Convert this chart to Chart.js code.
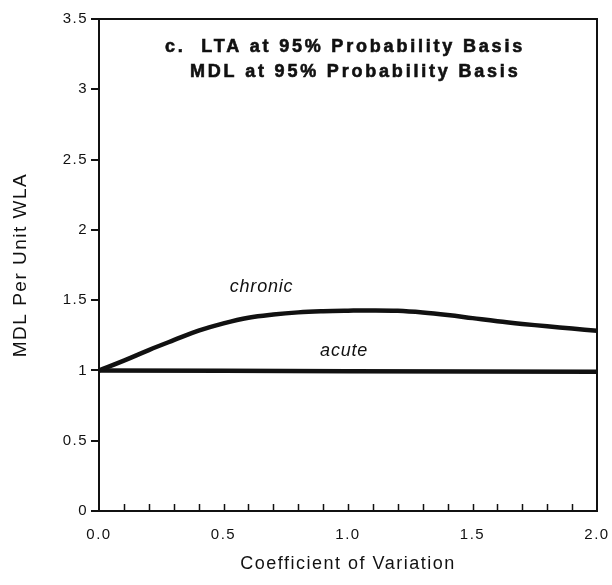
<!DOCTYPE html>
<html>
<head>
<meta charset="utf-8">
<title>MDL Per Unit WLA</title>
<script src="https://cdn.jsdelivr.net/npm/chart.js@4.4.1/dist/chart.umd.min.js"></script>
<style>
  html, body { margin: 0; padding: 0; background: #fff; }
  #wrap { width: 612px; height: 585px; }
</style>
</head>
<body>
<div id="wrap"><canvas id="mdlChart" width="612" height="585"></canvas></div>
<script>
// --- Data ---
const cvValues = [0.0, 0.1, 0.2, 0.3, 0.4, 0.5, 0.6, 0.7, 0.8, 0.9, 1.0,
                  1.1, 1.2, 1.3, 1.4, 1.5, 1.6, 1.7, 1.8, 1.9, 2.0];
const chronicMdl = [1.00, 1.07, 1.145, 1.215, 1.283, 1.335, 1.375, 1.398, 1.413, 1.421, 1.425,
                    1.427, 1.424, 1.412, 1.394, 1.372, 1.35, 1.331, 1.314, 1.298, 1.282];
const acuteCv = [0.0, 0.5, 1.0, 1.5, 2.0];
const acuteMdl = [1.0, 0.998, 0.995, 0.993, 0.99];

const xMinorTicks = [0.1, 0.2, 0.3, 0.4, 0.5, 0.6, 0.7, 0.8, 0.9, 1.0,
                     1.1, 1.2, 1.3, 1.4, 1.5, 1.6, 1.7, 1.8, 1.9];
const titleLines = ['c.  LTA at 95% Probability Basis', 'MDL at 95% Probability Basis'];
const curveLabels = [
  { text: 'chronic', x: 0.525, y: 1.56 },
  { text: 'acute', x: 0.888, y: 1.104 }
];

const INK = '#111';
const FONT = "'Liberation Sans', Arial, Helvetica, sans-serif";

function toPoints(xs, ys) {
  return xs.map((x, i) => ({ x: x, y: ys[i] }));
}

// --- Frame, inward minor ticks and text ---
const decorPlugin = {
  id: 'decor',
  beforeLayout(chart) { chart.ctx.letterSpacing = '1.5px'; },
  beforeDraw(chart) { chart.ctx.letterSpacing = '1.5px'; },
  beforeDatasetsDraw(chart) {
    const { ctx, chartArea: a, scales: { x } } = chart;
    ctx.save();
    ctx.strokeStyle = INK;
    ctx.lineWidth = 2;
    ctx.strokeRect(a.left, a.top, a.right - a.left, a.bottom - a.top);
    ctx.lineWidth = 1.5;
    ctx.beginPath();
    xMinorTicks.forEach(v => {
      const px = Math.round(x.getPixelForValue(v)) + 0.5;
      ctx.moveTo(px, a.bottom);
      ctx.lineTo(px, a.bottom - 7);
    });
    ctx.stroke();
    ctx.restore();
  },
  afterDraw(chart) {
    const { ctx, scales: { x, y } } = chart;
    ctx.save();
    ctx.fillStyle = INK;
    ctx.strokeStyle = INK;
    ctx.textBaseline = 'alphabetic';
    ctx.textAlign = 'left';

    // heading (slight stroke to thicken the bold face)
    ctx.font = 'bold 18px ' + FONT;
    ctx.letterSpacing = '2.8px';
    ctx.lineWidth = 0.6;
    [[165, 52], [190, 77]].forEach((pos, i) => {
      ctx.fillText(titleLines[i], pos[0], pos[1]);
      ctx.strokeText(titleLines[i], pos[0], pos[1]);
    });

    // curve names
    ctx.font = 'italic 18px ' + FONT;
    ctx.letterSpacing = '0.8px';
    curveLabels.forEach(l => {
      ctx.fillText(l.text, x.getPixelForValue(l.x), y.getPixelForValue(l.y));
    });
    ctx.restore();
  }
};

const ctx = document.getElementById('mdlChart').getContext('2d');
new Chart(ctx, {
  type: 'line',
  data: {
    datasets: [
      {
        label: 'chronic',
        data: toPoints(cvValues, chronicMdl),
        borderColor: INK, borderWidth: 4.5,
        pointRadius: 0, tension: 0.4, fill: false
      },
      {
        label: 'acute',
        data: toPoints(acuteCv, acuteMdl),
        borderColor: INK, borderWidth: 4.5,
        pointRadius: 0, tension: 0, fill: false
      }
    ]
  },
  options: {
    responsive: false,
    animation: false,
    layout: { padding: { top: 19, right: 15, left: 0, bottom: 0 } },
    plugins: { legend: { display: false }, tooltip: { enabled: false } },
    scales: {
      x: {
        type: 'linear', min: 0, max: 2,
        grid: { display: false, drawTicks: false },
        border: { display: false },
        ticks: {
          stepSize: 0.5, padding: 15, color: INK,
          font: { family: FONT, size: 15 },
          maxRotation: 0,
          callback: v => v.toFixed(1)
        },
        title: {
          display: true, text: 'Coefficient of Variation', color: INK,
          font: { family: FONT, size: 18 },
          padding: { top: 0, bottom: 10 }
        },
        afterFit: s => { s.height = 74; s.paddingLeft = 0; s.paddingRight = 0; }
      },
      y: {
        min: 0, max: 3.5,
        grid: { drawOnChartArea: false, drawTicks: true, tickLength: 8, color: INK, lineWidth: 2 },
        border: { display: false },
        ticks: {
          stepSize: 0.5, padding: 3, color: INK,
          font: { family: FONT, size: 15 },
          callback: v => String(v)
        },
        title: {
          display: true, text: 'MDL Per Unit WLA', color: INK,
          font: { family: FONT, size: 19 },
          padding: { top: 9, bottom: 0 }
        },
        afterFit: s => { s.width = 99; s.paddingTop = 0; s.paddingBottom = 0; }
      }
    }
  },
  plugins: [decorPlugin]
});
</script>
</body>
</html>
